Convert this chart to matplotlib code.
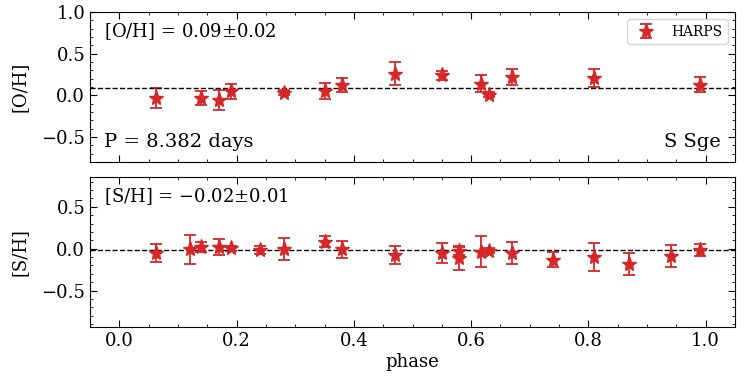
import matplotlib
matplotlib.use('Agg')
import matplotlib.pyplot as plt
import numpy as np
from matplotlib.ticker import MultipleLocator

# 相位与丰度数据
phase_o = [0.062, 0.14, 0.17, 0.19, 0.28, 0.35, 0.38, 0.47, 0.55, 0.617, 0.63, 0.67, 0.81, 0.99]
oh = [-0.03, -0.03, -0.06, 0.05, 0.03, 0.05, 0.12, 0.26, 0.24, 0.14, 0.01, 0.22, 0.21, 0.13]
oh_err = [0.12, 0.085, 0.12, 0.09, 0.03, 0.10, 0.085, 0.14, 0.055, 0.10, 0.03, 0.10, 0.11, 0.085]

phase_s = [0.062, 0.12, 0.14, 0.17, 0.19, 0.24, 0.28, 0.35, 0.38, 0.47, 0.55, 0.58, 0.58,
           0.617, 0.63, 0.67, 0.74, 0.81, 0.87, 0.94, 0.99]
sh = [-0.055, -0.01, 0.02, 0.02, 0.005, -0.015, 0.0, 0.085, -0.01, -0.075, -0.05, -0.03, -0.11,
      -0.035, -0.025, -0.055, -0.135, -0.10, -0.18, -0.085, -0.015]
sh_err = [0.11, 0.17, 0.06, 0.10, 0.03, 0.05, 0.13, 0.065, 0.10, 0.105, 0.12, 0.05, 0.14,
          0.18, 0.03, 0.13, 0.09, 0.165, 0.13, 0.13, 0.07]

oh_mean, oh_sig = 0.09, 0.02
sh_mean, sh_sig = -0.02, 0.01

plt.rcParams['font.family'] = 'DejaVu Serif'
plt.rcParams['mathtext.fontset'] = 'dejavuserif'
plt.rcParams['font.size'] = 13

fig = plt.figure(figsize=(7.5, 3.8), dpi=100)
ax1 = fig.add_axes([0.12, 0.5737, 0.86, 0.3947])
ax2 = fig.add_axes([0.12, 0.1395, 0.86, 0.3947])

color = '#d62728'
style = dict(fmt='*', color=color, ms=11, capsize=4, elinewidth=1.3, capthick=1.3)

ax1.errorbar(phase_o, oh, yerr=oh_err, label='HARPS', **style)
ax1.axhline(oh_mean, color='k', ls='--', lw=1)
ax2.errorbar(phase_s, sh, yerr=sh_err, **style)
ax2.axhline(sh_mean, color='k', ls='--', lw=1)

ax1.set_ylim(-0.8, 1.0)
ax2.set_ylim(-0.935, 0.855)
for ax in (ax1, ax2):
    ax.set_xlim(-0.05, 1.05)
    ax.xaxis.set_major_locator(MultipleLocator(0.2))
    ax.xaxis.set_minor_locator(MultipleLocator(0.05))
    ax.yaxis.set_major_locator(MultipleLocator(0.5))
    ax.yaxis.set_minor_locator(MultipleLocator(0.1))
    ax.tick_params(which='both', direction='in', top=True, right=True)
    ax.tick_params(which='major', length=5)
    ax.tick_params(which='minor', length=2.5)
ax1.tick_params(labelbottom=False)

ax1.set_ylabel('[O/H]')
ax2.set_ylabel('[S/H]')
ax1.yaxis.set_label_coords(-0.096, 0.5)
ax2.yaxis.set_label_coords(-0.096, 0.5)
ax2.set_xlabel('phase', labelpad=2)

ax1.text(0.022, 0.94, '[O/H] = %.2f$\\pm$%.2f' % (oh_mean, oh_sig), transform=ax1.transAxes,
         va='top', ha='left')
ax1.text(0.022, 0.07, 'P = 8.382 days', transform=ax1.transAxes, va='bottom', ha='left',
         fontsize=14)
ax1.text(0.978, 0.07, 'S Sge', transform=ax1.transAxes, va='bottom', ha='right', fontsize=14)
ax2.text(0.022, 0.94, '[S/H] = $-$%.2f$\\pm$%.2f' % (abs(sh_mean), sh_sig), transform=ax2.transAxes,
         va='top', ha='left')

ax1.legend(loc='upper right', fontsize=10)

fig.savefig('out.png', dpi=100)
